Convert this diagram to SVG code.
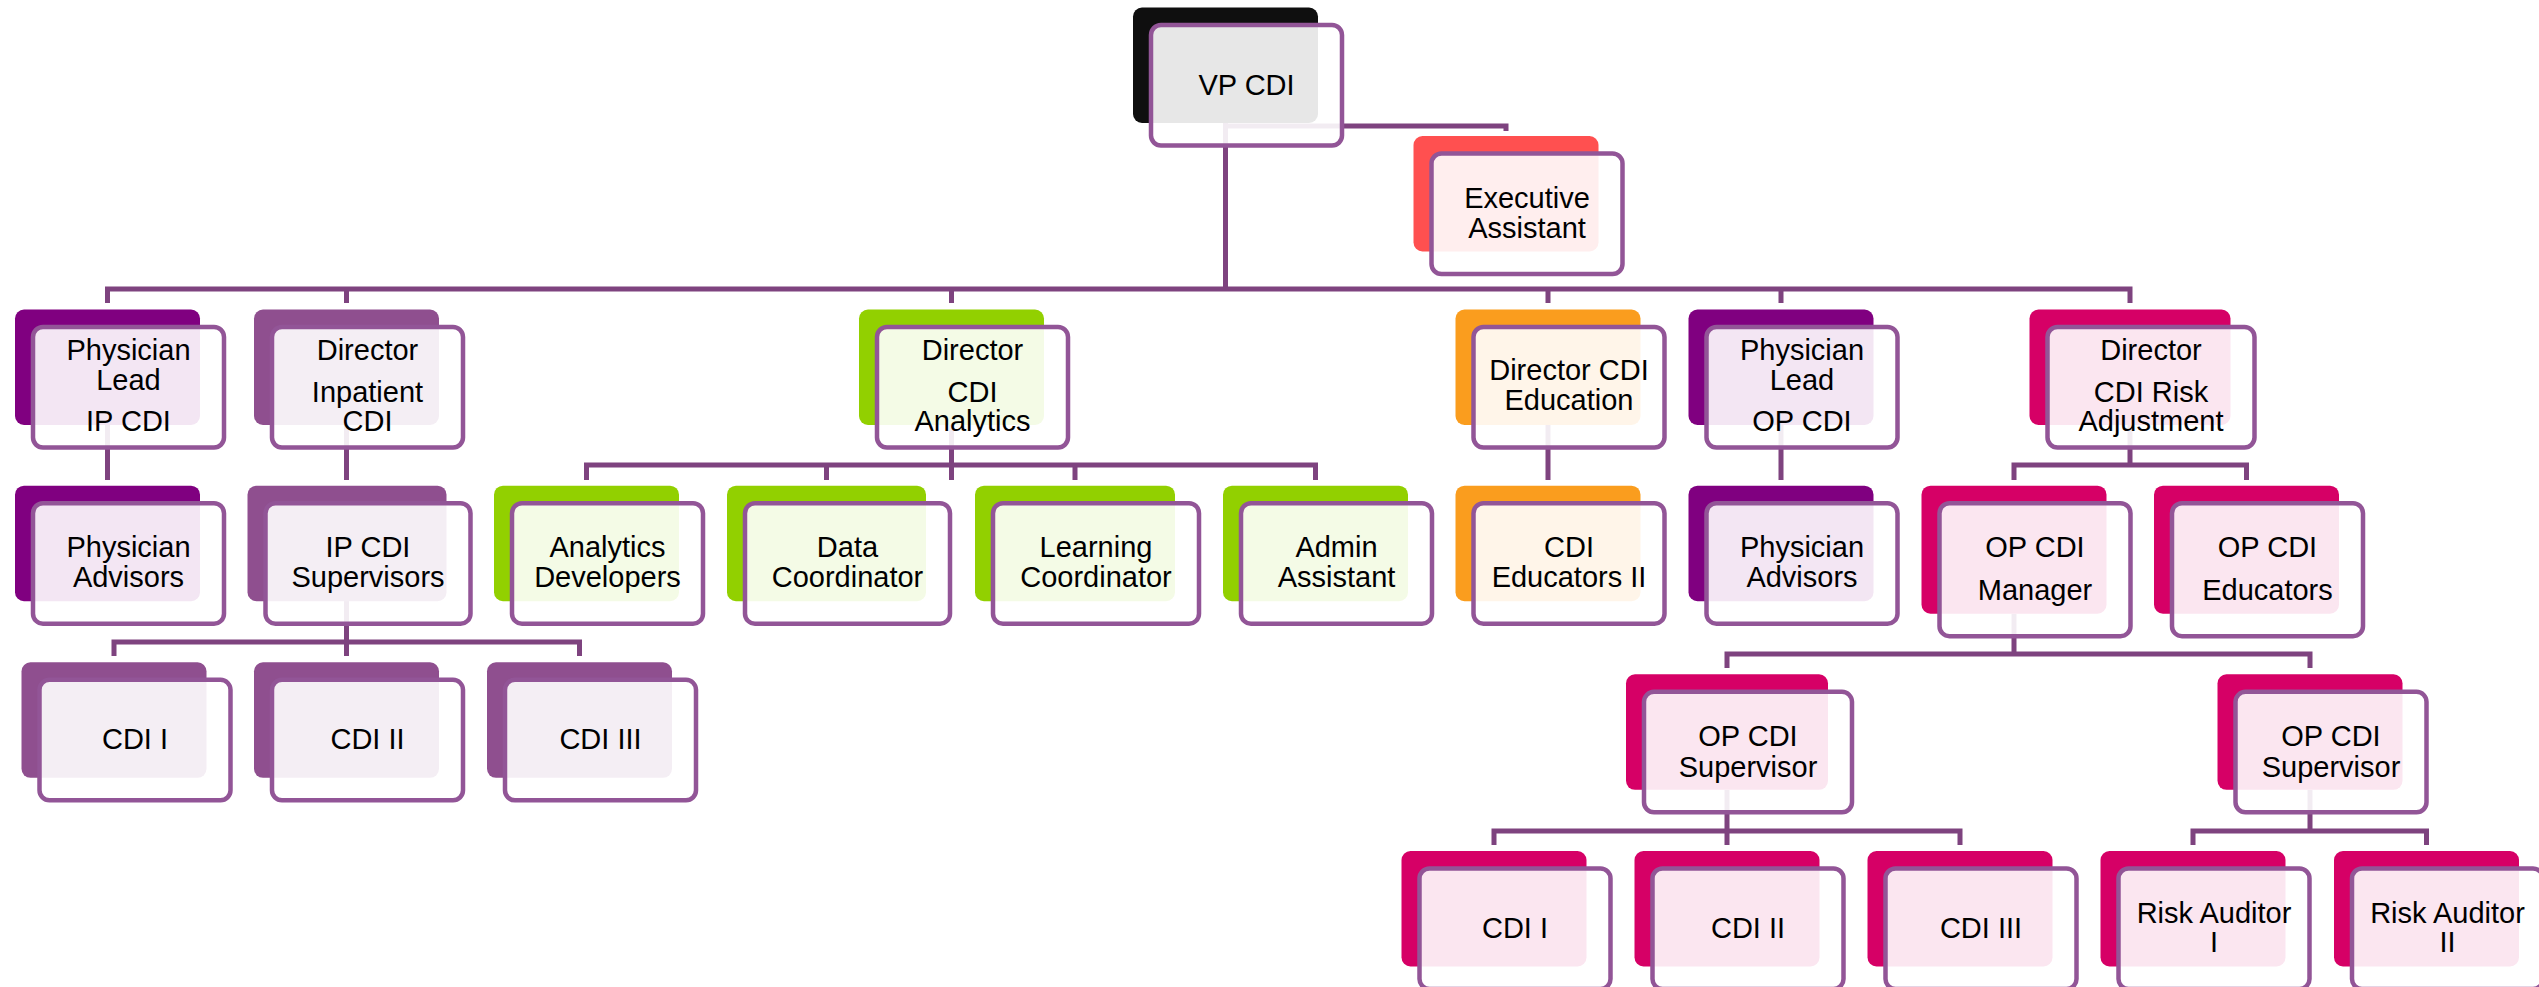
<svg xmlns="http://www.w3.org/2000/svg" width="2539" height="987" viewBox="0 0 2539 987">
<style>
.c{fill:none;stroke:#7E437F;stroke-width:5}
.f{fill:#fff;fill-opacity:.9;stroke:#925597;stroke-width:4.5}
.k{fill:#0F0F0F}.r{fill:#FF5050}.p{fill:#800080}.m{fill:#8F4F8F}.g{fill:#92D000}.o{fill:#FA9D1E}.q{fill:#D60066}
text{font-family:"Liberation Sans",Arial,sans-serif;font-size:29px;fill:#000;text-anchor:middle}
</style>
<rect width="2539" height="987" fill="#fff"/>
<g id="connectors">
<path class="c" d="M1225.5,123V289M1225.5,126H1506V131"/>
<path class="c" d="M107.5,303V289H2130V303M346.5,289V303M951.5,289V303M1548,289V303M1781,289V303"/>
<path class="c" d="M107.5,425V480M346.5,425V480M1548,425V480M1781,425V480"/>
<path class="c" d="M346.5,601V656M114,656V642H579.5V656"/>
<path class="c" d="M951.5,425V480M586.5,480V465H1315.5V480M826.5,465V480M1075,465V480"/>
<path class="c" d="M2130,425V465M2014,480V465H2246.5V480"/>
<path class="c" d="M2014,614V654M1727,668V654H2310V668"/>
<path class="c" d="M1727,790V845M1494,845V831H1960V845"/>
<path class="c" d="M2310,790V831M2193,845V831H2426.5V845"/>
</g>
<g id="vp"><rect class="k" x="1133" y="7.5" width="185" height="115.5" rx="9"/><rect class="f" x="1151" y="25" width="191" height="120.5" rx="10"/><text x="1246.5" y="95">VP CDI</text></g>
<g id="exec"><rect class="r" x="1413.5" y="136" width="185" height="115.5" rx="9"/><rect class="f" x="1431.5" y="153.5" width="191" height="120.5" rx="10"/><text x="1527" y="207.5">Executive</text><text x="1527" y="237.5">Assistant</text></g>

<g id="pl-ip"><rect class="p" x="15" y="309.5" width="185" height="115.5" rx="9"/><rect class="f" x="33" y="327" width="191" height="120.5" rx="10"/><text x="128.5" y="360">Physician</text><text x="128.5" y="389.5">Lead</text><text x="128.5" y="431">IP CDI</text></g>
<g id="dir-ip"><rect class="m" x="254" y="309.5" width="185" height="115.5" rx="9"/><rect class="f" x="272" y="327" width="191" height="120.5" rx="10"/><text x="367.5" y="360">Director</text><text x="367.5" y="401.5">Inpatient</text><text x="367.5" y="431">CDI</text></g>
<g id="dir-an"><rect class="g" x="859" y="309.5" width="185" height="115.5" rx="9"/><rect class="f" x="877" y="327" width="191" height="120.5" rx="10"/><text x="972.5" y="360">Director</text><text x="972.5" y="401.5">CDI</text><text x="972.5" y="431">Analytics</text></g>
<g id="dir-ed"><rect class="o" x="1455.5" y="309.5" width="185" height="115.5" rx="9"/><rect class="f" x="1473.5" y="327" width="191" height="120.5" rx="10"/><text x="1569" y="380">Director CDI</text><text x="1569" y="410">Education</text></g>
<g id="pl-op"><rect class="p" x="1688.5" y="309.5" width="185" height="115.5" rx="9"/><rect class="f" x="1706.5" y="327" width="191" height="120.5" rx="10"/><text x="1802" y="360">Physician</text><text x="1802" y="389.5">Lead</text><text x="1802" y="431">OP CDI</text></g>
<g id="dir-risk"><rect class="q" x="2029.5" y="309.5" width="201" height="115.5" rx="9"/><rect class="f" x="2047.5" y="327" width="207" height="120.5" rx="10"/><text x="2151" y="360">Director</text><text x="2151" y="401.5">CDI Risk</text><text x="2151" y="431">Adjustment</text></g>

<g id="pa-ip"><rect class="p" x="15" y="485.7" width="185" height="115.5" rx="9"/><rect class="f" x="33" y="503.2" width="191" height="120.5" rx="10"/><text x="128.5" y="556.5">Physician</text><text x="128.5" y="586.5">Advisors</text></g>
<g id="ip-sup"><rect class="m" x="247.5" y="485.7" width="199" height="115.5" rx="9"/><rect class="f" x="265.5" y="503.2" width="205" height="120.5" rx="10"/><text x="368" y="556.5">IP CDI</text><text x="368" y="586.5">Supervisors</text></g>
<g id="an-dev"><rect class="g" x="494" y="485.7" width="185" height="115.5" rx="9"/><rect class="f" x="512" y="503.2" width="191" height="120.5" rx="10"/><text x="607.5" y="556.5">Analytics</text><text x="607.5" y="586.5">Developers</text></g>
<g id="data-co"><rect class="g" x="727" y="485.7" width="199" height="115.5" rx="9"/><rect class="f" x="745" y="503.2" width="205" height="120.5" rx="10"/><text x="847.5" y="556.5">Data</text><text x="847.5" y="586.5">Coordinator</text></g>
<g id="learn-co"><rect class="g" x="975" y="485.7" width="200" height="115.5" rx="9"/><rect class="f" x="993" y="503.2" width="206" height="120.5" rx="10"/><text x="1096" y="556.5">Learning</text><text x="1096" y="586.5">Coordinator</text></g>
<g id="admin"><rect class="g" x="1223" y="485.7" width="185" height="115.5" rx="9"/><rect class="f" x="1241" y="503.2" width="191" height="120.5" rx="10"/><text x="1336.5" y="556.5">Admin</text><text x="1336.5" y="586.5">Assistant</text></g>
<g id="cdi-ed"><rect class="o" x="1455.5" y="485.7" width="185" height="115.5" rx="9"/><rect class="f" x="1473.5" y="503.2" width="191" height="120.5" rx="10"/><text x="1569" y="556.5">CDI</text><text x="1569" y="586.5">Educators II</text></g>
<g id="pa-op"><rect class="p" x="1688.5" y="485.7" width="185" height="115.5" rx="9"/><rect class="f" x="1706.5" y="503.2" width="191" height="120.5" rx="10"/><text x="1802" y="556.5">Physician</text><text x="1802" y="586.5">Advisors</text></g>
<g id="op-mgr"><rect class="q" x="1921.5" y="485.7" width="185" height="128" rx="9"/><rect class="f" x="1939.5" y="503.2" width="191" height="133" rx="10"/><text x="2035" y="556.5">OP CDI</text><text x="2035" y="600">Manager</text></g>
<g id="op-ed"><rect class="q" x="2154" y="485.7" width="185" height="128" rx="9"/><rect class="f" x="2172" y="503.2" width="191" height="133" rx="10"/><text x="2267.5" y="556.5">OP CDI</text><text x="2267.5" y="600">Educators</text></g>

<g id="ip-cdi1"><rect class="m" x="21.5" y="662.3" width="185" height="115.5" rx="9"/><rect class="f" x="39.5" y="679.8" width="191" height="120.5" rx="10"/><text x="135" y="748.5">CDI I</text></g>
<g id="ip-cdi2"><rect class="m" x="254" y="662.3" width="185" height="115.5" rx="9"/><rect class="f" x="272" y="679.8" width="191" height="120.5" rx="10"/><text x="367.5" y="748.5">CDI II</text></g>
<g id="ip-cdi3"><rect class="m" x="487" y="662.3" width="185" height="115.5" rx="9"/><rect class="f" x="505" y="679.8" width="191" height="120.5" rx="10"/><text x="600.5" y="748.5">CDI III</text></g>

<g id="op-sup1"><rect class="q" x="1626" y="674.3" width="202" height="115.5" rx="9"/><rect class="f" x="1644" y="691.8" width="208" height="120.5" rx="10"/><text x="1748" y="746">OP CDI</text><text x="1748" y="776.5">Supervisor</text></g>
<g id="op-sup2"><rect class="q" x="2217.5" y="674.3" width="185" height="115.5" rx="9"/><rect class="f" x="2235.5" y="691.8" width="191" height="120.5" rx="10"/><text x="2331" y="746">OP CDI</text><text x="2331" y="776.5">Supervisor</text></g>

<g id="op-cdi1"><rect class="q" x="1401.5" y="851" width="185" height="115.5" rx="9"/><rect class="f" x="1419.5" y="868.5" width="191" height="120.5" rx="10"/><text x="1515" y="937.5">CDI I</text></g>
<g id="op-cdi2"><rect class="q" x="1634.5" y="851" width="185" height="115.5" rx="9"/><rect class="f" x="1652.5" y="868.5" width="191" height="120.5" rx="10"/><text x="1748" y="937.5">CDI II</text></g>
<g id="op-cdi3"><rect class="q" x="1867.5" y="851" width="185" height="115.5" rx="9"/><rect class="f" x="1885.5" y="868.5" width="191" height="120.5" rx="10"/><text x="1981" y="937.5">CDI III</text></g>
<g id="risk1"><rect class="q" x="2100.5" y="851" width="185" height="115.5" rx="9"/><rect class="f" x="2118.5" y="868.5" width="191" height="120.5" rx="10"/><text x="2214" y="922.5">Risk Auditor</text><text x="2214" y="951.5">I</text></g>
<g id="risk2"><rect class="q" x="2334" y="851" width="185" height="115.5" rx="9"/><rect class="f" x="2352" y="868.5" width="191" height="120.5" rx="10"/><text x="2447.5" y="922.5">Risk Auditor</text><text x="2447.5" y="951.5">II</text></g>
</svg>
